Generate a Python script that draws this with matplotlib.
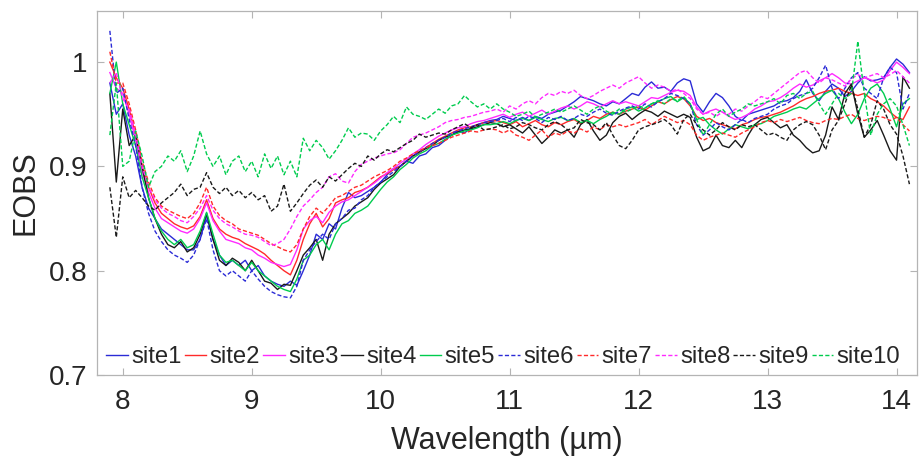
import numpy as np
import matplotlib
matplotlib.use("Agg")
import matplotlib.pyplot as plt
from matplotlib.ticker import FuncFormatter

# wavelength grid (um), 0.05 step from 7.90 to 14.10
wavelength = np.round(np.arange(7.90, 14.1001, 0.05), 2)

site1 = [0.98, 0.95, 0.96, 0.93, 0.91, 0.88, 0.86, 0.85, 0.84, 0.835,
         0.83, 0.825, 0.82, 0.82, 0.83, 0.853, 0.83, 0.815, 0.805, 0.81,
         0.805, 0.81, 0.80, 0.805, 0.795, 0.79, 0.787, 0.785, 0.79, 0.786,
         0.80, 0.815, 0.835, 0.83, 0.845, 0.84, 0.86, 0.875, 0.87, 0.872,
         0.876, 0.88, 0.885, 0.892, 0.898, 0.90, 0.905, 0.903, 0.91, 0.912,
         0.918, 0.92, 0.925, 0.93, 0.934, 0.932, 0.937, 0.94, 0.942, 0.944,
         0.945, 0.948, 0.946, 0.944, 0.947, 0.944, 0.948, 0.946, 0.950, 0.952,
         0.954, 0.958, 0.962, 0.967, 0.965, 0.963, 0.960, 0.958, 0.962, 0.960,
         0.965, 0.970, 0.968, 0.976, 0.981, 0.975, 0.976, 0.972, 0.980, 0.984,
         0.982, 0.960, 0.952, 0.962, 0.970, 0.966, 0.958, 0.948, 0.944, 0.950,
         0.952, 0.954, 0.956, 0.958, 0.962, 0.963, 0.966, 0.972, 0.983, 0.970,
         0.963, 0.972, 0.979, 0.975, 0.967, 0.972, 0.980, 0.986, 0.982, 0.983,
         0.985, 0.995, 1.003, 0.998, 0.990]

site2 = [1.0, 0.985, 0.975, 0.955, 0.93, 0.90, 0.88, 0.865, 0.855, 0.85,
         0.845, 0.842, 0.84, 0.843, 0.852, 0.868, 0.85, 0.84, 0.835, 0.832,
         0.83, 0.826, 0.823, 0.82, 0.816, 0.81, 0.805, 0.80, 0.796, 0.81,
         0.83, 0.845, 0.855, 0.842, 0.85, 0.865, 0.868, 0.87, 0.875, 0.877,
         0.88, 0.885, 0.89, 0.893, 0.897, 0.90, 0.905, 0.91, 0.913, 0.918,
         0.922, 0.926, 0.929, 0.932, 0.935, 0.937, 0.938, 0.94, 0.942, 0.943,
         0.944, 0.942, 0.940, 0.943, 0.938, 0.941, 0.944, 0.940, 0.938, 0.942,
         0.94, 0.943, 0.945, 0.941, 0.944, 0.948, 0.946, 0.950, 0.952, 0.950,
         0.953, 0.955, 0.957, 0.954, 0.958, 0.962, 0.96, 0.964, 0.967, 0.965,
         0.958, 0.948, 0.944, 0.946, 0.942, 0.94, 0.938, 0.936, 0.94, 0.942,
         0.945, 0.947, 0.948, 0.95, 0.952, 0.955, 0.958, 0.962, 0.965, 0.967,
         0.97, 0.972, 0.973, 0.975, 0.972, 0.97, 0.968, 0.97, 0.965, 0.962,
         0.958, 0.952, 0.947, 0.945, 0.957]

site3 = [0.99, 0.975, 0.97, 0.95, 0.925, 0.895, 0.875, 0.86, 0.85, 0.846,
         0.842, 0.838, 0.836, 0.84, 0.85, 0.865, 0.848, 0.838, 0.83, 0.828,
         0.826, 0.822, 0.82, 0.815, 0.812, 0.808, 0.806, 0.804, 0.806, 0.82,
         0.84, 0.848, 0.852, 0.846, 0.856, 0.862, 0.866, 0.868, 0.872, 0.876,
         0.88, 0.884, 0.889, 0.894, 0.898, 0.903, 0.907, 0.912, 0.916, 0.921,
         0.925, 0.929, 0.932, 0.935, 0.937, 0.938, 0.941, 0.943, 0.944, 0.946,
         0.948, 0.95, 0.947, 0.950, 0.952, 0.948, 0.951, 0.954, 0.950, 0.953,
         0.956, 0.958, 0.955, 0.958, 0.962, 0.96, 0.957, 0.96, 0.963, 0.96,
         0.962, 0.96, 0.958, 0.962, 0.966, 0.965, 0.968, 0.971, 0.973, 0.972,
         0.968, 0.957, 0.95, 0.953, 0.955, 0.952, 0.948, 0.945, 0.947, 0.95,
         0.955, 0.958, 0.962, 0.963, 0.966, 0.97, 0.975, 0.979, 0.976, 0.978,
         0.982, 0.985, 0.989, 0.985, 0.98, 0.979, 0.982, 0.985, 0.983, 0.98,
         0.983, 0.992, 1.0, 0.995, 0.989]

site4 = [0.97, 0.885, 0.955, 0.92, 0.93, 0.90, 0.87, 0.85, 0.835, 0.825,
         0.822, 0.828, 0.818, 0.822, 0.835, 0.855, 0.83, 0.81, 0.805, 0.812,
         0.808, 0.80, 0.81, 0.80, 0.79, 0.788, 0.782, 0.787, 0.786, 0.80,
         0.815, 0.822, 0.83, 0.81, 0.835, 0.845, 0.85, 0.855, 0.862, 0.866,
         0.87, 0.878, 0.884, 0.888, 0.892, 0.90, 0.905, 0.91, 0.914, 0.917,
         0.92, 0.925, 0.928, 0.93, 0.933, 0.935, 0.936, 0.938, 0.94, 0.942,
         0.941, 0.938, 0.940, 0.936, 0.932, 0.938, 0.930, 0.922, 0.928, 0.935,
         0.932, 0.935, 0.928, 0.94, 0.945, 0.934, 0.925, 0.930, 0.942, 0.948,
         0.951, 0.945, 0.95, 0.954, 0.952, 0.948, 0.953, 0.950, 0.947, 0.950,
         0.947, 0.928, 0.915, 0.918, 0.930, 0.920, 0.918, 0.925, 0.918, 0.930,
         0.940, 0.945, 0.947, 0.942, 0.937, 0.940, 0.930, 0.925, 0.918, 0.913,
         0.915, 0.930, 0.957, 0.945, 0.970, 0.979, 0.950, 0.928, 0.935, 0.944,
         0.930, 0.915, 0.906, 0.986, 0.975]

site5 = [0.97, 1.0, 0.96, 0.94, 0.92, 0.89, 0.87, 0.85, 0.838, 0.83,
         0.825, 0.83, 0.822, 0.825, 0.838, 0.856, 0.835, 0.815, 0.808, 0.81,
         0.805, 0.80, 0.808, 0.80, 0.795, 0.79, 0.785, 0.782, 0.78, 0.792,
         0.81, 0.815, 0.825, 0.83, 0.82, 0.835, 0.845, 0.848, 0.855, 0.858,
         0.862, 0.87, 0.878, 0.885, 0.89, 0.897, 0.902, 0.908, 0.912, 0.915,
         0.92, 0.922, 0.926, 0.93, 0.932, 0.934, 0.935, 0.937, 0.94, 0.94,
         0.941, 0.943, 0.941, 0.944, 0.946, 0.944, 0.947, 0.945, 0.943, 0.946,
         0.947, 0.944, 0.946, 0.942, 0.944, 0.941, 0.945, 0.948, 0.952, 0.95,
         0.955, 0.957, 0.953, 0.956, 0.96, 0.962, 0.965, 0.967, 0.962, 0.966,
         0.96, 0.945, 0.947, 0.94, 0.935, 0.931, 0.936, 0.94, 0.938, 0.936,
         0.94, 0.941, 0.944, 0.948, 0.950, 0.952, 0.955, 0.957, 0.955, 0.96,
         0.965, 0.97, 0.973, 0.965, 0.952, 0.941, 0.95, 0.965, 0.975, 0.979,
         0.97, 0.955, 0.938, 0.96, 0.965]

site6 = [1.03, 0.97, 0.975, 0.945, 0.92, 0.88, 0.855, 0.838, 0.828, 0.82,
         0.815, 0.812, 0.808, 0.815, 0.83, 0.85, 0.82, 0.80, 0.795, 0.80,
         0.795, 0.79, 0.80, 0.792, 0.785, 0.78, 0.777, 0.775, 0.774, 0.785,
         0.81, 0.82, 0.828, 0.835, 0.83, 0.845, 0.85, 0.858, 0.86, 0.868,
         0.872, 0.88, 0.885, 0.89, 0.895, 0.90, 0.905, 0.91, 0.914, 0.918,
         0.922, 0.925, 0.928, 0.932, 0.934, 0.936, 0.938, 0.94, 0.942, 0.943,
         0.944, 0.946, 0.943, 0.947, 0.944, 0.948, 0.946, 0.942, 0.947, 0.945,
         0.948, 0.944, 0.946, 0.950, 0.948, 0.952, 0.955, 0.951, 0.949, 0.953,
         0.956, 0.958, 0.955, 0.96, 0.957, 0.962, 0.965, 0.97, 0.968, 0.965,
         0.96, 0.94, 0.93, 0.935, 0.942, 0.938, 0.935, 0.94, 0.945, 0.942,
         0.946, 0.948, 0.95, 0.955, 0.958, 0.96, 0.965, 0.968, 0.97, 0.975,
         0.985, 0.997, 0.975, 0.965, 0.975, 0.985, 0.99, 0.975, 0.97, 0.965,
         0.985, 0.995, 0.99, 0.955, 0.97]

site7 = [1.01, 0.98, 0.98, 0.96, 0.935, 0.905, 0.885, 0.87, 0.862, 0.858,
         0.855, 0.852, 0.85, 0.855, 0.865, 0.88, 0.862, 0.853, 0.848, 0.845,
         0.84, 0.838, 0.836, 0.834, 0.83, 0.826, 0.823, 0.82, 0.818, 0.825,
         0.84, 0.852, 0.86, 0.855, 0.862, 0.87, 0.872, 0.876, 0.88, 0.882,
         0.886, 0.89, 0.893, 0.896, 0.9, 0.905, 0.908, 0.912, 0.915, 0.918,
         0.92, 0.922, 0.925, 0.928, 0.93, 0.932, 0.934, 0.933, 0.935, 0.936,
         0.935, 0.932, 0.935, 0.93, 0.928, 0.925, 0.93, 0.935, 0.928, 0.932,
         0.93, 0.934, 0.932, 0.936, 0.933, 0.938, 0.935, 0.94, 0.938, 0.94,
         0.938, 0.94, 0.942, 0.945, 0.94, 0.944, 0.948, 0.945, 0.942, 0.944,
         0.94, 0.93, 0.925, 0.928, 0.93, 0.932, 0.93, 0.928, 0.932, 0.935,
         0.938, 0.942, 0.944, 0.942, 0.945, 0.943, 0.945, 0.947, 0.944, 0.942,
         0.941, 0.944, 0.946, 0.945, 0.948, 0.95, 0.946, 0.944, 0.946, 0.948,
         0.947, 0.944, 0.947, 0.94, 0.934]

site8 = [0.98, 0.99, 0.965, 0.955, 0.93, 0.90, 0.88, 0.868, 0.86, 0.855,
         0.852, 0.848, 0.846, 0.852, 0.86, 0.872, 0.858, 0.85, 0.845, 0.842,
         0.838, 0.835, 0.834, 0.832, 0.828, 0.824, 0.826, 0.83, 0.84, 0.852,
         0.862, 0.868, 0.875, 0.88, 0.89, 0.893, 0.886, 0.884, 0.895, 0.902,
         0.905, 0.908, 0.91, 0.912, 0.913, 0.916, 0.922, 0.928, 0.93, 0.932,
         0.935, 0.938, 0.942, 0.944, 0.945, 0.947, 0.948, 0.95, 0.952, 0.953,
         0.955, 0.952, 0.958, 0.955, 0.96, 0.963, 0.96, 0.966, 0.97, 0.968,
         0.972, 0.97, 0.973, 0.968, 0.965, 0.968, 0.972, 0.975, 0.978, 0.975,
         0.98, 0.983, 0.986, 0.98, 0.975, 0.978, 0.976, 0.972, 0.974, 0.97,
         0.965, 0.955, 0.95, 0.952, 0.948, 0.952, 0.95, 0.955, 0.953, 0.958,
         0.962, 0.967, 0.965, 0.97, 0.975, 0.98, 0.985, 0.99, 0.992, 0.985,
         0.98, 0.985, 0.983, 0.98, 0.977, 0.984, 0.988, 0.985, 0.987, 0.989,
         0.985, 0.988, 0.992, 0.986, 0.98]

site9 = [0.88, 0.832, 0.89, 0.87, 0.877, 0.87, 0.862, 0.858, 0.865, 0.87,
         0.875, 0.883, 0.872, 0.878, 0.88, 0.894, 0.88, 0.874, 0.88, 0.872,
         0.877, 0.87, 0.875, 0.868, 0.872, 0.857, 0.862, 0.883, 0.857, 0.865,
         0.874, 0.882, 0.887, 0.88, 0.89, 0.886, 0.892, 0.898, 0.903, 0.9,
         0.91, 0.906, 0.912, 0.916, 0.914, 0.918, 0.922, 0.925, 0.931, 0.928,
         0.93, 0.932, 0.931, 0.935, 0.938, 0.941, 0.937, 0.94, 0.935, 0.936,
         0.938, 0.94, 0.936, 0.938, 0.942, 0.94, 0.937, 0.935, 0.94, 0.943,
         0.94, 0.935, 0.937, 0.945, 0.942, 0.94, 0.935, 0.942, 0.93, 0.92,
         0.917, 0.925, 0.935, 0.938, 0.94, 0.942, 0.945, 0.94, 0.931, 0.945,
         0.95, 0.94, 0.935, 0.93, 0.935, 0.942, 0.938, 0.935, 0.94, 0.938,
         0.94, 0.935, 0.93, 0.932, 0.928, 0.925, 0.935, 0.94, 0.943, 0.94,
         0.93, 0.916, 0.935, 0.944, 0.96, 0.978, 0.955, 0.928, 0.94, 0.963,
         0.955, 0.94, 0.931, 0.91, 0.883]

site10 = [0.93, 0.98, 0.90, 0.905, 0.934, 0.91, 0.88, 0.895, 0.9, 0.91,
          0.905, 0.915, 0.895, 0.91, 0.934, 0.912, 0.90, 0.91, 0.892, 0.905,
          0.91, 0.895, 0.905, 0.89, 0.912, 0.898, 0.91, 0.892, 0.905, 0.89,
          0.927, 0.915, 0.925, 0.918, 0.907, 0.915, 0.925, 0.937, 0.928, 0.932,
          0.931, 0.925, 0.934, 0.94, 0.948, 0.942, 0.957, 0.95, 0.948, 0.945,
          0.95, 0.955, 0.951, 0.958, 0.96, 0.968, 0.962, 0.957, 0.96, 0.955,
          0.96, 0.955, 0.952, 0.948, 0.95, 0.953, 0.947, 0.95, 0.952, 0.955,
          0.952, 0.955, 0.958, 0.954, 0.95, 0.955, 0.958, 0.953, 0.95, 0.955,
          0.952, 0.955, 0.958, 0.956, 0.96, 0.963, 0.96, 0.965, 0.963, 0.967,
          0.96, 0.945, 0.93, 0.94, 0.95, 0.955, 0.948, 0.952, 0.955, 0.96,
          0.958, 0.96, 0.962, 0.965, 0.96, 0.968, 0.97, 0.965, 0.97, 0.972,
          0.96, 0.95, 0.96, 0.97, 0.965, 0.97, 1.02, 0.97, 0.93, 0.95,
          0.96, 0.965, 0.958, 0.94, 0.92]

labels = ["site1", "site2", "site3", "site4", "site5",
          "site6", "site7", "site8", "site9", "site10"]
series = [site1, site2, site3, site4, site5, site6, site7, site8, site9, site10]

blue, red, mag, blk, grn = "#2b2bd6", "#ff2a2a", "#ff2aff", "#1a1a1a", "#00cc4e"
colors = [blue, red, mag, blk, grn, blue, red, mag, blk, grn]
styles = ["-"] * 5 + ["--"] * 5

plt.rcParams["font.family"] = ["Liberation Sans", "DejaVu Sans"]
txt = "#262626"

fig = plt.figure(figsize=(9.19, 4.59), dpi=100)
ax = fig.add_axes([0.1055, 0.183, 0.8925, 0.793])

for y, c, ls, lab in zip(series, colors, styles, labels):
    if ls == "--":
        ax.plot(wavelength, y, color=c, lw=1.0, ls=ls, dashes=(3, 1.6), label=lab)
    else:
        ax.plot(wavelength, y, color=c, lw=1.0, ls=ls, label=lab)

ax.set_xlim(7.8, 14.16)
ax.set_ylim(0.7, 1.049)
ax.set_xticks([8, 9, 10, 11, 12, 13, 14])
ax.set_yticks([0.7, 0.8, 0.9, 1.0])
ax.yaxis.set_major_formatter(FuncFormatter(lambda v, p: "%g" % round(v, 2)))

for s in ax.spines.values():
    s.set_color("#b4b4b4")
    s.set_linewidth(0.9)
ax.tick_params(direction="in", length=5, width=0.8, color="#b4b4b4",
               labelsize=20, labelcolor=txt, top=True, right=True)
ax.tick_params(axis="x", pad=10)
ax.tick_params(axis="y", pad=7)

ax.set_xlabel("Wavelength (µm)", fontsize=22, color=txt, labelpad=8)
ax.set_ylabel("EOBS", fontsize=22, color=txt, labelpad=6)

leg = ax.legend(loc="lower left", ncol=10, frameon=False, fontsize=17.2,
                bbox_to_anchor=(-0.006, -0.02), handlelength=0.9,
                handletextpad=0.15, columnspacing=0.12, borderaxespad=0.2)
for t in leg.get_texts():
    t.set_color(txt)

fig.savefig("out.png", dpi=100)
